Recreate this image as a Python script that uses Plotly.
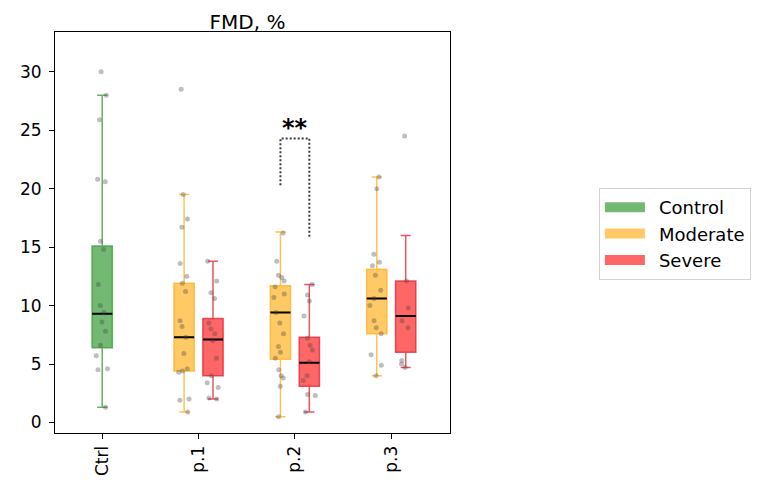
import plotly.graph_objects as go

categories = ["Ctrl", "p.1", "p.2", "p.3"]

# box statistics
control_q1 = [6.4]
control_median = [9.3]
control_q3 = [15.1]
control_low = [1.3]
control_high = [28.0]

moderate_q1 = [4.4, 5.4, 7.6]
moderate_median = [7.3, 9.4, 10.6]
moderate_q3 = [11.9, 11.7, 13.1]
moderate_low = [0.9, 0.5, 4.0]
moderate_high = [19.5, 16.3, 21.0]

severe_q1 = [4.0, 3.1, 6.0]
severe_median = [7.1, 5.1, 9.1]
severe_q3 = [8.9, 7.3, 12.1]
severe_low = [2.0, 0.9, 4.7]
severe_high = [13.8, 11.8, 16.0]

# individual points
ctrl_points = [30.0, 28.0, 25.9, 20.8, 20.6, 15.5, 14.8, 11.8, 10.0, 9.4, 8.6, 7.8, 6.6, 5.7, 4.6, 4.5, 1.3]
mod_p1_points = [28.5, 19.5, 17.4, 16.7, 13.6, 12.5, 11.9, 11.2, 8.7, 8.2, 7.3, 5.9, 4.6, 4.4, 4.3, 2.0, 1.9, 0.9]
mod_p2_points = [16.2, 13.8, 12.6, 12.4, 12.1, 11.6, 11.0, 10.7, 9.4, 8.5, 7.6, 6.5, 6.0, 5.5, 4.5, 4.0, 3.8, 3.1, 0.5]
mod_p3_points = [21.0, 20.0, 14.4, 13.7, 13.4, 12.6, 11.3, 10.6, 10.0, 8.7, 8.1, 7.6, 5.8, 4.9, 4.0]
sev_p1_points = [13.8, 12.1, 11.1, 10.6, 8.5, 8.0, 7.6, 7.0, 5.5, 4.0, 3.4, 3.0, 2.1, 2.0]
sev_p2_points = [11.8, 10.9, 10.4, 9.1, 7.2, 6.6, 6.2, 5.2, 4.0, 3.6, 2.4, 2.3, 0.9]
sev_p3_points = [24.5, 12.1, 9.8, 8.7, 8.1, 5.3, 5.0, 4.7]

# significance bracket (moderate vs severe, p.2)
sig_y = [20.3, 24.3, 24.3, 15.8]
sig_label = "**"

OFFSET = 0.15
BOX_W = 0.21

GREEN_FILL, GREEN_LINE = "rgba(0,128,0,0.55)", "rgba(60,160,60,0.8)"
ORANGE_FILL, ORANGE_LINE = "rgba(255,165,0,0.6)", "rgba(255,180,40,0.8)"
RED_FILL, RED_LINE = "rgba(255,0,0,0.6)", "rgba(230,40,60,0.8)"

ctrl_x = [0]
mod_x = [i - OFFSET for i in range(1, 4)]
sev_x = [i + OFFSET for i in range(1, 4)]

fig = go.Figure()


def add_group(name, xs, q1, med, q3, lo, hi, fill, line):
    fig.add_trace(go.Box(
        name=name, x=xs, q1=q1, median=med, q3=q3, lowerfence=lo, upperfence=hi,
        width=BOX_W, fillcolor=fill, line=dict(color=line, width=1.5),
        whiskerwidth=0.5, boxpoints=False, showlegend=False,
    ))
    # black median line on top
    fig.add_trace(go.Box(
        x=xs, q1=med, median=med, q3=med, lowerfence=med, upperfence=med,
        width=BOX_W, fillcolor="rgba(0,0,0,0)", line=dict(color="black", width=2),
        whiskerwidth=0, boxpoints=False, showlegend=False, hoverinfo="skip",
    ))
    # legend patch
    fig.add_trace(go.Scatter(
        x=[None], y=[None], mode="lines", name="\u2002" + name,
        line=dict(color=fill, width=17),
    ))


def add_points(xs, point_lists):
    px, py = [], []
    for x, pts in zip(xs, point_lists):
        px += [x] * len(pts)
        py += pts
    fig.add_trace(go.Box(
        x=px, y=py, width=BOX_W, boxpoints="all", jitter=0.7, pointpos=0,
        fillcolor="rgba(0,0,0,0)", line=dict(width=0, color="rgba(0,0,0,0)"),
        marker=dict(color="rgba(70,70,70,0.35)", size=5),
        showlegend=False, hoverinfo="y",
    ))


add_group("Control", ctrl_x, control_q1, control_median, control_q3, control_low, control_high, GREEN_FILL, GREEN_LINE)
add_group("Moderate", mod_x, moderate_q1, moderate_median, moderate_q3, moderate_low, moderate_high, ORANGE_FILL, ORANGE_LINE)
add_group("Severe", sev_x, severe_q1, severe_median, severe_q3, severe_low, severe_high, RED_FILL, RED_LINE)

add_points(ctrl_x, [ctrl_points])
add_points(mod_x, [mod_p1_points, mod_p2_points, mod_p3_points])
add_points(sev_x, [sev_p1_points, sev_p2_points, sev_p3_points])

bx = [mod_x[1], mod_x[1], sev_x[1], sev_x[1]]
fig.add_trace(go.Scatter(
    x=bx, y=sig_y, mode="lines", line=dict(color="rgb(60,60,60)", width=2, dash="2px,2px"),
    showlegend=False, hoverinfo="skip",
))
fig.add_annotation(
    x=(bx[0] + bx[2]) / 2, y=sig_y[1], text=f"<b>{sig_label}</b>", showarrow=False,
    yanchor="bottom", yshift=-6, font=dict(size=24, color="black"),
)

axis_common = dict(
    showline=True, mirror=True, linecolor="black", linewidth=1,
    ticks="outside", ticklen=5, tickcolor="black", showgrid=False, zeroline=False,
)

fig.update_layout(
    width=768, height=494,
    paper_bgcolor="white", plot_bgcolor="white",
    font=dict(family="DejaVu Sans", size=17, color="black"),
    title=dict(text="FMD, %", x=(37 + 442) / 2 / 768, xanchor="center", y=0.972, yanchor="middle",
               font=dict(size=20)),
    margin=dict(l=37, r=326, t=24, b=69),
    boxmode="overlay",
    xaxis=dict(range=[-0.49, 3.61], tickmode="array", tickvals=list(range(len(categories))),
               ticktext=categories, tickangle=-90, tickfont=dict(size=17), **axis_common),
    yaxis=dict(range=[-0.9, 33.4], tickvals=[0, 5, 10, 15, 20, 25, 30], tickfont=dict(size=17),
               ticklabelstandoff=4, **axis_common),
    legend=dict(x=1.377, y=0.611, xanchor="left", yanchor="top", bordercolor="rgb(210,210,210)",
                borderwidth=1, font=dict(size=18), itemwidth=40, tracegroupgap=2),
)

fig.write_html("out.html")
